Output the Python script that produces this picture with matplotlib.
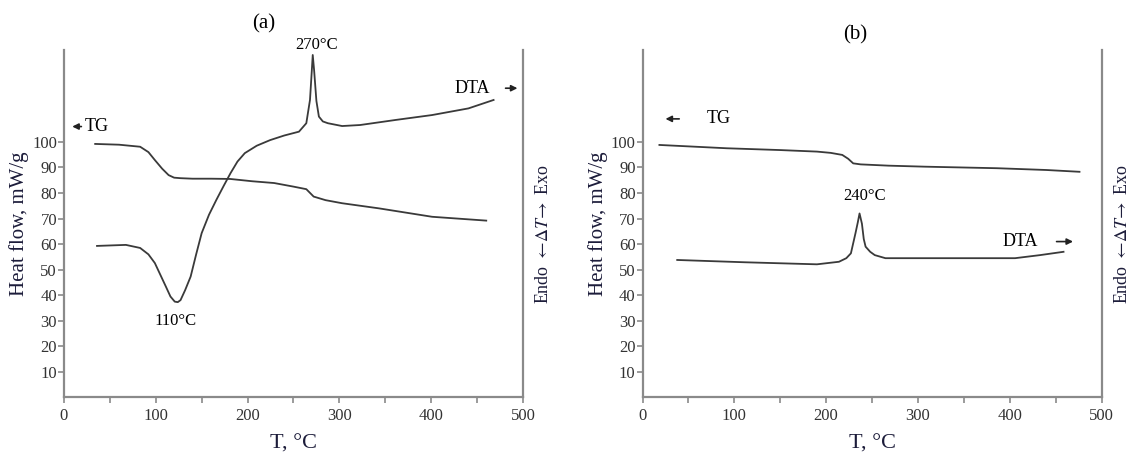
import numpy as np
import matplotlib.pyplot as plt

plt.rcParams['font.family'] = ['Liberation Serif', 'DejaVu Serif']
plt.rcParams['mathtext.fontset'] = 'stix'

# panel (a)
tg_a_x = [34, 60, 83, 92, 99, 107, 114, 120, 127, 140, 160, 181, 205, 229, 250, 264, 272, 285, 303, 343, 401, 460]
tg_a_y = [99.2, 98.9, 98.1, 96.0, 92.9, 89.5, 87.0, 86.0, 85.8, 85.6, 85.6, 85.5, 84.6, 83.9, 82.5, 81.5, 78.6, 77.2, 76.0, 74.0, 70.7, 69.2]
dta_a_x = [36, 67.5, 83, 92, 99, 105, 111, 116, 120.7, 124, 127, 132, 138, 144, 150, 158, 166, 174, 181.5, 189, 197, 210, 224.6, 240, 256, 264, 268, 270, 271, 272.5, 275, 277.7, 282, 287.5, 303, 322.6, 361.7, 401, 440.6, 468]
dta_a_y = [59.3, 59.7, 58.5, 56.0, 52.6, 48.0, 43.4, 39.5, 37.5, 37.3, 38.1, 42.0, 47.3, 56.0, 64.3, 71.5, 77.3, 82.8, 87.8, 92.3, 95.6, 98.5, 100.7, 102.5, 104.0, 107.3, 116.4, 128.0, 134.0, 128.0, 116.0, 109.9, 108.0, 107.3, 106.2, 106.6, 108.6, 110.5, 113.1, 116.4]

# panel (b)
tg_b_x = [18.4, 92, 150, 190, 205, 217.6, 224, 229.5, 237.6, 268, 307.8, 386, 440, 476]
tg_b_y = [98.8, 97.5, 96.8, 96.2, 95.7, 94.9, 93.4, 91.6, 91.2, 90.7, 90.3, 89.7, 89.0, 88.3]
dta_b_x = [37.8, 111.5, 190, 214, 222, 227, 232, 234.5, 236.4, 239, 241, 243, 248, 253, 264.6, 307.8, 405.8, 433, 458.6]
dta_b_y = [53.8, 52.9, 52.1, 53.1, 54.5, 56.4, 64.3, 68.5, 72.0, 68.0, 62.0, 59.0, 57.0, 55.7, 54.5, 54.5, 54.5, 55.7, 57.0]

x_major = [0, 100, 200, 300, 400, 500]
y_ticks = [10, 20, 30, 40, 50, 60, 70, 80, 90, 100]

LINE = '#3a3a3a'
SPINE = '#8a8a8a'
LABEL = '#1c1c3a'

fig = plt.figure(figsize=(11.3, 4.55), dpi=100)
ax_a = fig.add_axes([0.0566, 0.1264, 0.4062, 0.764])
ax_b = fig.add_axes([0.5686, 0.1264, 0.4062, 0.764])


def setup(ax):
    ax.set_xlim(0, 500)
    ax.set_ylim(0, 136)
    ax.spines['top'].set_visible(False)
    for s in ['left', 'bottom', 'right']:
        ax.spines[s].set_color(SPINE)
        ax.spines[s].set_linewidth(1.6)
    ax.set_xticks(x_major)
    ax.set_xticks(np.arange(50, 500, 100), minor=True)
    ax.set_yticks(y_ticks)
    ax.tick_params(axis='both', which='both', direction='out', length=4, width=1.2,
                   colors=SPINE, labelcolor='#333333', labelsize=12)
    ax.tick_params(axis='y', pad=1)
    ax.set_xlabel('T, °C', fontsize=16, color=LABEL, labelpad=8)
    ax.set_ylabel('Heat flow, mW/g', fontsize=15, color=LABEL, labelpad=2)
    ax.text(1.045, 0.47, r'Endo $\leftarrow\!\Delta T\!\rightarrow$ Exo', transform=ax.transAxes,
            rotation=90, fontsize=13, color=LABEL, ha='center', va='center')


def arrow(ax, x0, x1, y):
    ax.annotate('', xy=(x1, y), xytext=(x0, y),
                arrowprops=dict(arrowstyle='-|>', color='#222222', lw=1.2, mutation_scale=9))


setup(ax_a)
ax_a.plot(tg_a_x, tg_a_y, color=LINE, lw=1.3)
ax_a.plot(dta_a_x, dta_a_y, color=LINE, lw=1.3)
ax_a.text(218, 146, '(a)', fontsize=15, ha='center', va='center', clip_on=False)
ax_a.text(275, 138, '270°C', fontsize=12, ha='center', va='center', clip_on=False)
ax_a.text(122, 30, '110°C', fontsize=12, ha='center', va='center')
ax_a.text(445, 121, 'DTA', fontsize=13, ha='center', va='center')
arrow(ax_a, 478, 497, 121)
arrow(ax_a, 22, 6, 106)
ax_a.text(23, 106, 'TG', fontsize=13, ha='left', va='center')

setup(ax_b)
ax_b.plot(tg_b_x, tg_b_y, color=LINE, lw=1.3)
ax_b.plot(dta_b_x, dta_b_y, color=LINE, lw=1.3)
ax_b.text(232, 142, '(b)', fontsize=15, ha='center', va='center', clip_on=False)
ax_b.text(242, 79, '240°C', fontsize=12, ha='center', va='center')
ax_b.text(411, 61, 'DTA', fontsize=13, ha='center', va='center')
arrow(ax_b, 448, 472, 61)
arrow(ax_b, 43, 22, 109)
ax_b.text(70, 109, 'TG', fontsize=13, ha='left', va='center')

fig.savefig('out.png', dpi=100)
